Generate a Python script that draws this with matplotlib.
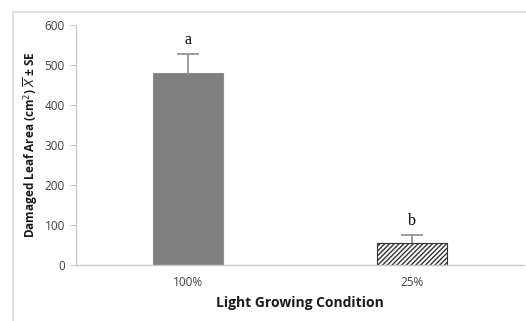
import matplotlib
matplotlib.use("Agg")
import matplotlib.pyplot as plt
from matplotlib.lines import Line2D

# data
conditions = ["100%", "25%"]
damage = [480, 55]
se = [47, 20]
letters = ["a", "b"]

plt.rcParams['font.family'] = ['Open Sans', 'DejaVu Sans']
plt.rcParams['hatch.linewidth'] = 1.0
plt.rcParams['hatch.color'] = '#333333'

W, H = 526, 321
fig = plt.figure(figsize=(W / 100, H / 100), dpi=100)
ax = fig.add_axes([76 / W, 56 / H, 448 / W, 240 / H])

x = range(len(conditions))
bars = ax.bar(x, damage, width=0.316, color=['#808080', 'white'],
              edgecolor=['#8c8c8c', '#333333'], linewidth=0.8)
bars[1].set_hatch('///////')
# only upper error bars, no cap at the bar top
eb = ax.errorbar(x, damage, yerr=[[0, 0], se], fmt='none', ecolor='#8c8c8c',
                 elinewidth=1.2, capsize=8, capthick=1.2)
eb[1][0].set_visible(False)

for i in x:
    ax.text(i, damage[i] + se[i] + 16, letters[i], ha='center', va='bottom',
            fontsize=11.5, family=['Liberation Serif', 'DejaVu Serif'])

ax.set_xlim(-0.5, 1.5)
ax.set_ylim(0, 600)
ax.set_yticks(range(0, 601, 100))
ax.set_xticks(list(x))
ax.set_xticklabels(conditions)
ax.tick_params(axis='both', labelsize=8.5, colors='#404040', length=0)
ax.tick_params(axis='y', pad=4, length=4, color='#c8c8c8', direction='out')
ax.tick_params(axis='x', pad=8)

for s in ['top', 'right']:
    ax.spines[s].set_visible(False)
for s in ['left', 'bottom']:
    ax.spines[s].set_color('#c8c8c8')
    ax.spines[s].set_linewidth(1.0)

ax.set_xlabel('Light Growing Condition', fontsize=10, fontweight='bold',
              color='#1a1a1a', labelpad=5)
ax.set_ylabel('Damaged Leaf Area (cm$^2$) $\\overline{X}$ ± SE', fontsize=8.5,
              fontweight='bold', color='#1a1a1a', labelpad=3)

# outer chart frame (top and left only)
fig.add_artist(Line2D([13 / W, 1], [1 - 12 / H, 1 - 12 / H], color='#d9d9d9', lw=1.2))
fig.add_artist(Line2D([13 / W, 13 / W], [0, 1 - 12 / H], color='#d9d9d9', lw=1.2))

fig.savefig('out.png', dpi=100)
